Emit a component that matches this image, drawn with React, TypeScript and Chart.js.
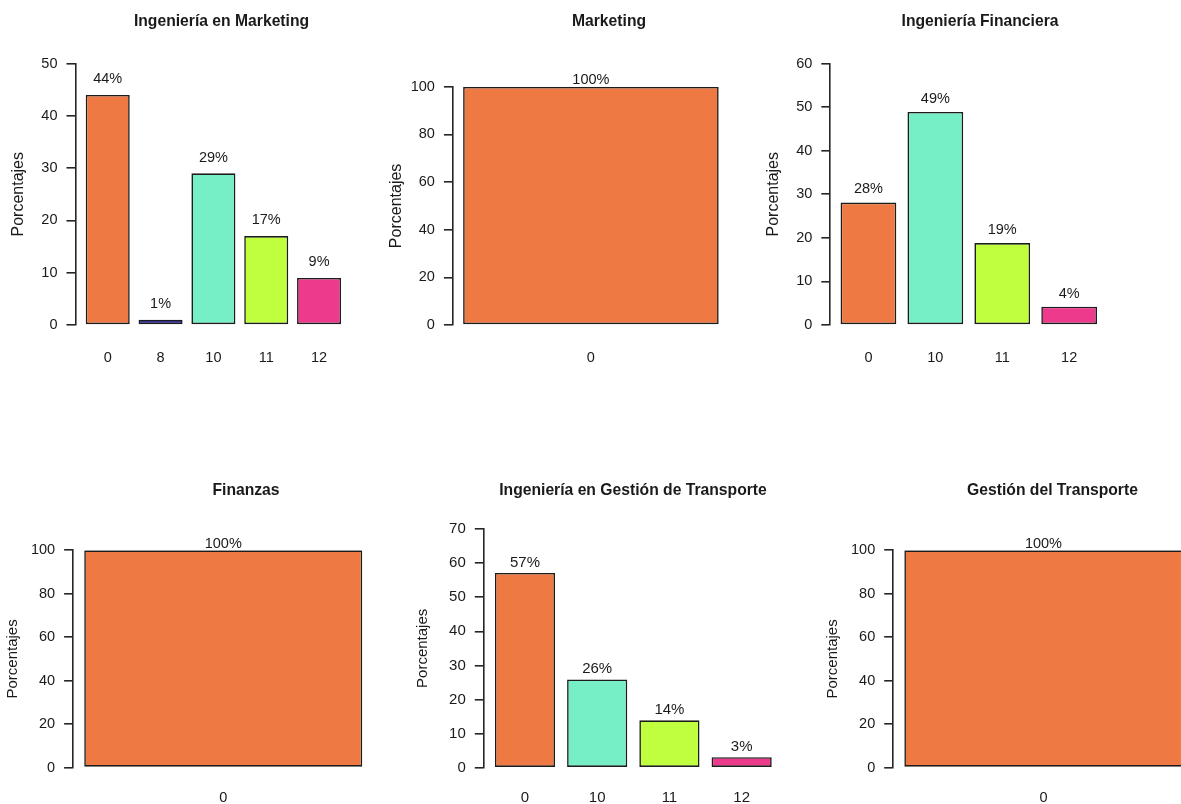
import React, { useEffect, useRef } from 'react';
import { Chart, registerables } from 'chart.js';

Chart.register(...registerables);

// ---------------- DATA ----------------
const panelTitles = [
  'Ingeniería en Marketing',
  'Marketing',
  'Ingeniería Financiera',
  'Finanzas',
  'Ingeniería en Gestión de Transporte',
  'Gestión del Transporte',
];

const catsIngMarketing = ['0', '8', '10', '11', '12'];
const valsIngMarketing = [44, 1, 29, 17, 9];

const catsMarketing = ['0'];
const valsMarketing = [100];

const catsIngFinanciera = ['0', '10', '11', '12'];
const valsIngFinanciera = [28.1, 48.9, 18.8, 4.2];

const catsFinanzas = ['0'];
const valsFinanzas = [100];

const catsIngTransporte = ['0', '10', '11', '12'];
const valsIngTransporte = [57.1, 25.9, 13.9, 3.1];

const catsGestTransporte = ['0'];
const valsGestTransporte = [100];

const yAxisMax = [50, 100, 60, 100, 70, 100];
const yAxisStep = [10, 20, 10, 20, 10, 20];

const yAxisLabel = 'Porcentajes';

const categoryColors: Record<string, string> = {
  '0': '#EE7942',
  '8': '#000080',
  '10': '#76EEC6',
  '11': '#C0FF3E',
  '12': '#EE3A8C',
};

const panelCats = [catsIngMarketing, catsMarketing, catsIngFinanciera, catsFinanzas, catsIngTransporte, catsGestTransporte];
const panelVals = [valsIngMarketing, valsMarketing, valsIngFinanciera, valsFinanzas, valsIngTransporte, valsGestTransporte];

// ---------------- LAYOUT (pixel placement of each panel) ----------------
type PanelLayout = {
  axisX: number; plotRight: number; topY: number; zeroY: number;
  titleCX: number; titleCY: number; ylabX: number; xlabY: number;
  top: number; bottom: number; num: number; ylabSize: number;
};

const layouts: PanelLayout[] = [
  { axisX: 75.5, plotRight: 351.3, topY: 63.5, zeroY: 325, titleCX: 221.3, titleCY: 21.7, ylabX: 19, xlabY: 357.7, top: 0, bottom: 400, num: 14.5, ylabSize: 16 },
  { axisX: 452.9, plotRight: 728.9, topY: 86.8, zeroY: 325, titleCX: 609, titleCY: 21.7, ylabX: 397, xlabY: 357.7, top: 0, bottom: 400, num: 14.5, ylabSize: 16 },
  { axisX: 830.3, plotRight: 1107.3, topY: 63.5, zeroY: 325, titleCX: 980, titleCY: 21.7, ylabX: 774, xlabY: 357.7, top: 0, bottom: 400, num: 14.5, ylabSize: 16 },
  { axisX: 73.1, plotRight: 373.4, topY: 550.3, zeroY: 767.5, titleCX: 246, titleCY: 490.8, ylabX: 13, xlabY: 797.5, top: 440, bottom: 804, num: 14.5, ylabSize: 15 },
  { axisX: 483.8, plotRight: 782.8, topY: 529, zeroY: 767.7, titleCX: 633, titleCY: 490.8, ylabX: 423, xlabY: 797.5, top: 440, bottom: 804, num: 15, ylabSize: 15 },
  { axisX: 893.2, plotRight: 1193.7, topY: 550.3, zeroY: 767.5, titleCX: 1052.7, titleCY: 490.8, ylabX: 832.7, xlabY: 797.5, top: 440, bottom: 804, num: 14.5, ylabSize: 15 },
];

const BASE_FONT = '"Liberation Sans", Arial, Helvetica, sans-serif';
const TEXT_COLOR = '#1a1a1a';
const AXIS_COLOR = '#262626';
const Y_AXIS_WIDTH = 70;
const BAR_SPACE = 0.2; // R barplot default space
const AXIS_EXPAND = 0.04; // R default 4% axis expansion
const LABEL_OFFSET = 3; // label drawn at value + 3 (data units)

Chart.defaults.font.family = BASE_FONT;

let titleFontCache: { family: string; size: number } | null = null;
function titleFont() {
  if (titleFontCache) return titleFontCache;
  let narrow = false;
  try {
    const c = document.createElement('canvas').getContext('2d');
    if (c) {
      const s = 'Ingeniería Marketing Mm';
      c.font = 'bold 40px monospace';
      const a = c.measureText(s).width;
      c.font = 'bold 40px "Liberation Sans Narrow", monospace';
      const b = c.measureText(s).width;
      narrow = Math.abs(a - b) > 0.5;
    }
  } catch (e) {
    narrow = false;
  }
  titleFontCache = narrow
    ? { family: '"Liberation Sans Narrow", "Liberation Sans", Arial, sans-serif', size: 18.5 }
    : { family: BASE_FONT, size: 15.7 };
  return titleFontCache;
}

const barValueLabels = {
  id: 'barValueLabels',
  afterDatasetsDraw(chart: any, _args: any, opts: any) {
    const { ctx } = chart;
    const meta = chart.getDatasetMeta(0);
    const yScale = chart.scales.y;
    const data = chart.data.datasets[0].data as { x: number; y: number }[];
    ctx.save();
    ctx.font = `${opts.size}px ${BASE_FONT}`;
    ctx.fillStyle = TEXT_COLOR;
    ctx.textAlign = 'center';
    ctx.textBaseline = 'middle';
    meta.data.forEach((el: any, i: number) => {
      const v = data[i].y;
      ctx.fillText(`${Math.round(v)}%`, el.x, yScale.getPixelForValue(v + LABEL_OFFSET));
    });
    ctx.restore();
  },
};

function Panel({ index }: { index: number }) {
  const ref = useRef<HTMLCanvasElement | null>(null);
  const lay = layouts[index];
  const L = Math.floor(lay.axisX - Y_AXIS_WIDTH);
  const R = Math.round(2 * lay.titleCX - L);
  const width = R - L;
  const height = lay.bottom - lay.top;

  useEffect(() => {
    if (!ref.current) return;
    const cats = panelCats[index];
    const vals = panelVals[index];
    const n = cats.length;
    const centers = cats.map((_, i) => 0.5 + BAR_SPACE + i * (1 + BAR_SPACE));
    const span = n * (1 + BAR_SPACE) - BAR_SPACE;
    const xMin = BAR_SPACE - AXIS_EXPAND * span;
    const xMax = n * (1 + BAR_SPACE) + AXIS_EXPAND * span;
    const barPct = n > 1 ? 1 / (1 + BAR_SPACE) : 1 / (1 + 2 * AXIS_EXPAND);

    const tf = titleFont();
    const tLine = tf.size * 1.2;
    const tPadTop = lay.titleCY - lay.top - tLine / 2;
    const tPadBottom = lay.topY - lay.top - tPadTop - tLine;
    const yAxisWidth = lay.axisX - L;
    const rightWidth = R - lay.plotRight;
    const ylabLine = lay.ylabSize * 1.2;
    const ylabPad = lay.ylabX - L - ylabLine / 2;
    const xAxisHeight = lay.bottom - lay.zeroY;
    const xLine = lay.num * 1.2;
    const xPad = lay.xlabY - lay.zeroY - xLine / 2;

    const chart = new Chart(ref.current, {
      type: 'bar',
      data: {
        datasets: [
          {
            data: vals.map((v, i) => ({ x: centers[i], y: v })),
            backgroundColor: cats.map((c) => categoryColors[c]),
            borderColor: '#1c1c1c',
            borderWidth: 1.6,
            borderSkipped: false,
            barPercentage: barPct,
            categoryPercentage: 1,
          },
        ],
      },
      options: {
        responsive: false,
        animation: false,
        events: [],
        layout: { padding: 0 },
        plugins: {
          legend: { display: false },
          tooltip: { enabled: false },
          title: {
            display: true,
            text: panelTitles[index],
            color: TEXT_COLOR,
            font: { family: tf.family, size: tf.size, weight: 'bold' },
            padding: { top: tPadTop, bottom: tPadBottom },
          },
          barValueLabels: { size: lay.num },
        } as any,
        scales: {
          x: {
            type: 'linear',
            min: xMin,
            max: xMax,
            offset: false,
            grid: { display: false, drawTicks: false },
            border: { display: false },
            afterBuildTicks: (s: any) => {
              s.ticks = centers.map((value) => ({ value }));
            },
            ticks: {
              autoSkip: false,
              maxRotation: 0,
              padding: xPad,
              color: TEXT_COLOR,
              font: { size: lay.num, family: BASE_FONT },
              callback: (_v: any, i: number) => cats[i],
            },
            afterFit: (s: any) => {
              s.height = xAxisHeight;
            },
          },
          y: {
            type: 'linear',
            position: 'left',
            min: 0,
            max: yAxisMax[index],
            grid: { drawOnChartArea: false, drawTicks: true, tickLength: 9, color: AXIS_COLOR, lineWidth: 1.6 },
            border: { display: true, color: AXIS_COLOR, width: 1.6 },
            ticks: {
              stepSize: yAxisStep[index],
              padding: 9,
              color: TEXT_COLOR,
              font: { size: lay.num, family: BASE_FONT },
            },
            title: {
              display: true,
              text: yAxisLabel,
              color: TEXT_COLOR,
              font: { size: lay.ylabSize, family: BASE_FONT },
              padding: { top: ylabPad, bottom: 0 },
            },
            afterFit: (s: any) => {
              s.width = yAxisWidth;
            },
          },
          yRight: {
            type: 'linear',
            position: 'right',
            display: true,
            grid: { display: false, drawTicks: false },
            border: { display: false },
            ticks: { display: false },
            afterFit: (s: any) => {
              s.width = rightWidth;
            },
          },
        } as any,
      },
      plugins: [barValueLabels],
    } as any);
    return () => chart.destroy();
  }, [index]);

  return (
    <canvas
      ref={ref}
      width={width}
      height={height}
      style={{ position: 'absolute', left: L, top: lay.top, width, height }}
    />
  );
}

export default function App() {
  return (
    <div
      style={{
        position: 'absolute',
        left: 0,
        top: 0,
        width: 1181,
        height: 804,
        overflow: 'hidden',
        background: '#ffffff',
      }}
    >
      {panelTitles.map((_, i) => (
        <Panel key={i} index={i} />
      ))}
    </div>
  );
}
